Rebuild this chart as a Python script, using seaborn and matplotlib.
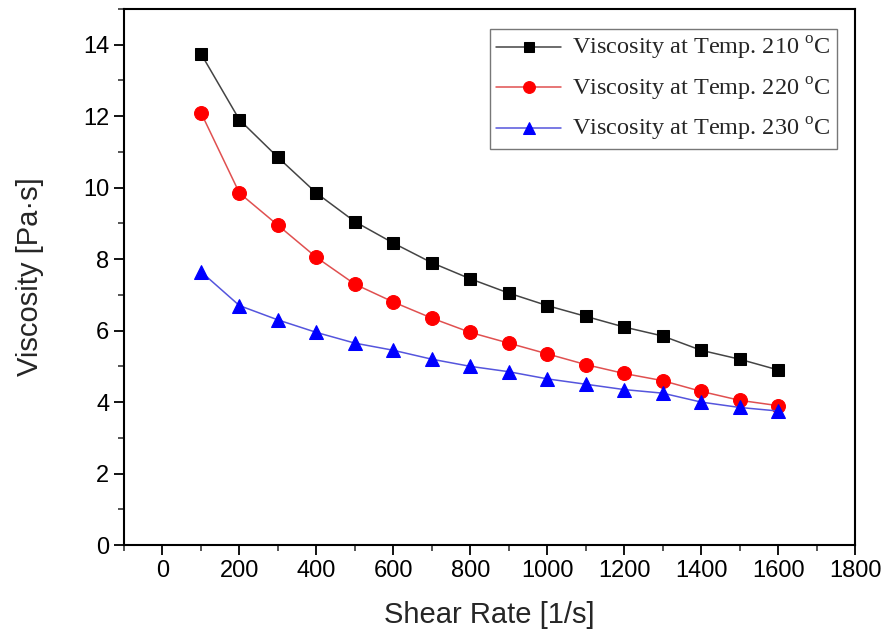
import numpy as np
import pandas as pd
import matplotlib
matplotlib.use("Agg")
import matplotlib.pyplot as plt
import seaborn as sns
from matplotlib.ticker import MultipleLocator

sns.set_style("ticks")
plt.rcParams['font.family'] = ['Liberation Sans Narrow', 'Liberation Sans', 'DejaVu Sans']

# shear rate [1/s]
shear_rate = [100, 200, 300, 400, 500, 600, 700, 800, 900, 1000, 1100, 1200, 1300, 1400, 1500, 1600]
# viscosity [Pa.s] at each temperature
visc_210 = [13.75, 11.9, 10.85, 9.85, 9.05, 8.45, 7.9, 7.45, 7.05, 6.7, 6.4, 6.1, 5.85, 5.45, 5.2, 4.9]
visc_220 = [12.1, 9.85, 8.95, 8.05, 7.3, 6.8, 6.35, 5.95, 5.65, 5.35, 5.05, 4.8, 4.6, 4.3, 4.05, 3.9]
visc_230 = [7.65, 6.7, 6.3, 5.95, 5.65, 5.45, 5.2, 5.0, 4.85, 4.65, 4.5, 4.35, 4.25, 4.0, 3.85, 3.75]

labels = ["Viscosity at Temp. 210 $^\\mathregular{o}$C",
          "Viscosity at Temp. 220 $^\\mathregular{o}$C",
          "Viscosity at Temp. 230 $^\\mathregular{o}$C"]

fig = plt.figure(figsize=(8.82, 6.35), dpi=100)
ax = fig.add_axes([0.1406, 0.1417, 0.8288, 0.8441])

series = [
    (visc_210, labels[0], "s", "black", "#444444", 9),
    (visc_220, labels[1], "o", "red", "#e05050", 10),
    (visc_230, labels[2], "^", "blue", "#5555dd", 10),
]
for vals, lab, mk, mc, lc, ms in series:
    df = pd.DataFrame({"x": shear_rate, "y": vals})
    sns.lineplot(data=df, x="x", y="y", ax=ax, color=lc, linewidth=1.1,
                 marker=mk, markersize=ms, markerfacecolor=mc,
                 markeredgecolor=mc, label=lab)

ax.set_xlim(-100, 1800)
ax.set_ylim(0, 15)
ax.xaxis.set_major_locator(MultipleLocator(200))
ax.xaxis.set_minor_locator(MultipleLocator(100))
ax.yaxis.set_major_locator(MultipleLocator(2))
ax.yaxis.set_minor_locator(MultipleLocator(1))
ax.tick_params(which="major", direction="out", length=7, width=1.3, labelsize=17, colors="black")
ax.tick_params(which="minor", direction="out", length=4, width=1.1)
for s in ax.spines.values():
    s.set_linewidth(1.5)
    s.set_color("black")

ax.set_xlabel("Shear Rate [1/s]", fontsize=21, labelpad=14)
ax.set_ylabel("Viscosity [Pa·s]", fontsize=21, labelpad=28)

leg = ax.legend(loc="upper right", bbox_to_anchor=(0.992, 0.985), frameon=True, fancybox=False,
                prop={"family": "Liberation Serif", "size": 17.5}, handlelength=2.7,
                borderpad=0.25, labelspacing=0.55, handletextpad=0.45, markerscale=0.85)
leg.get_frame().set_edgecolor("#555555")
leg.get_frame().set_linewidth(1.0)

fig.savefig("out.png", dpi=100)
